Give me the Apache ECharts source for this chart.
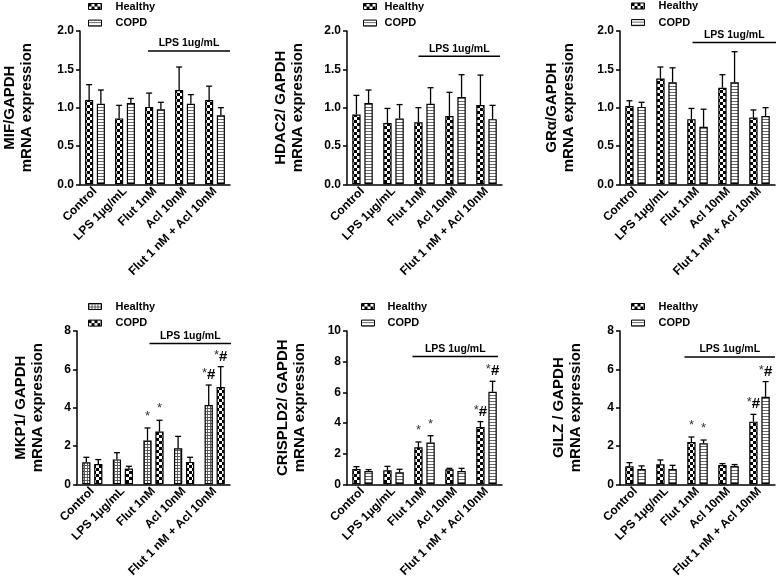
<!DOCTYPE html>
<html><head><meta charset="utf-8">
<script src="https://cdn.jsdelivr.net/npm/echarts@6/dist/echarts.min.js"></script>
<style>html,body{margin:0;padding:0;background:#fff}#c{width:778px;height:580px}</style>
</head><body><div id="c"></div>
<script>
// ---------- DATA ----------
const categories = ['Control', 'LPS 1μg/mL', 'Flut 1nM', 'Acl 10nM', 'Flut 1 nM + Acl 10nM'];
const groupNames = ['Healthy', 'COPD'];
const lpsLabel = 'LPS 1ug/mL';

const mifTitle = 'MIF/GAPDH\nmRNA expression';
const mifHealthy = [1.10, 0.86, 1.01, 1.23, 1.10];
const mifHealthyErr = [0.20, 0.17, 0.18, 0.30, 0.18];
const mifCopd = [1.05, 1.06, 0.98, 1.05, 0.90];
const mifCopdErr = [0.18, 0.06, 0.09, 0.12, 0.10];

const hdac2Title = 'HDAC2/ GAPDH\nmRNA expression';
const hdac2Healthy = [0.91, 0.80, 0.81, 0.89, 1.035];
const hdac2HealthyErr = [0.25, 0.19, 0.19, 0.31, 0.39];
const hdac2Copd = [1.06, 0.86, 1.05, 1.14, 0.85];
const hdac2CopdErr = [0.17, 0.18, 0.21, 0.29, 0.18];

const graTitle = 'GRα/GAPDH\nmRNA expression';
const graHealthy = [1.02, 1.38, 0.85, 1.26, 0.87];
const graHealthyErr = [0.07, 0.15, 0.14, 0.17, 0.10];
const graCopd = [1.01, 1.33, 0.75, 1.33, 0.89];
const graCopdErr = [0.06, 0.19, 0.23, 0.40, 0.11];

const mkp1Title = 'MKP1/ GAPDH\nmRNA expression';
const mkp1Healthy = [1.15, 1.30, 2.28, 1.88, 4.14];
const mkp1HealthyErr = [0.26, 0.35, 0.66, 0.62, 1.04];
const mkp1Copd = [1.06, 0.82, 2.75, 1.17, 5.08];
const mkp1CopdErr = [0.23, 0.12, 0.59, 0.24, 1.06];

const crispTitle = 'CRISPLD2/ GAPDH\nmRNA expression';
const crispHealthy = [1.00, 0.91, 2.41, 0.98, 3.74];
const crispHealthyErr = [0.15, 0.26, 0.35, 0.06, 0.35];
const crispCopd = [0.87, 0.78, 2.72, 0.87, 6.04];
const crispCopdErr = [0.09, 0.20, 0.45, 0.17, 0.68];

const gilzTitle = 'GILZ / GAPDH\nmRNA expression';
const gilzHealthy = [0.94, 1.04, 2.21, 1.01, 3.27];
const gilzHealthyErr = [0.19, 0.23, 0.26, 0.07, 0.38];
const gilzCopd = [0.80, 0.80, 2.14, 0.96, 4.57];
const gilzCopdErr = [0.16, 0.19, 0.17, 0.07, 0.79];

const noSig = ['', '', '', '', ''];
const sigMarks = ['', '', '*', '', '*#'];

const topAxisMax = 2, topAxisInterval = 0.5;
const mkp1AxisMax = 8, crispAxisMax = 10, gilzAxisMax = 8, bottomAxisInterval = 2;

// y value at which the "LPS 1ug/mL" bracket sits in each panel
const lpsLevels = [1.74, 1.67, 1.85, 7.35, 8.34, 6.64];

// ---------- PATTERNS ----------
function tile(type) {
  const c = document.createElement('canvas');
  let g;
  if (type === 'checker') {
    c.width = 6; c.height = 6; g = c.getContext('2d');
    g.fillStyle = '#fff'; g.fillRect(0, 0, 6, 6);
    g.fillStyle = '#000'; g.fillRect(0, 0, 3, 3); g.fillRect(3, 3, 3, 3);
  } else if (type === 'stripes') {
    c.width = 4; c.height = 3; g = c.getContext('2d');
    g.fillStyle = '#fff'; g.fillRect(0, 0, 4, 3);
    g.fillStyle = '#6a6a6a'; g.fillRect(0, 2, 4, 1);
  } else {
    c.width = 3; c.height = 3; g = c.getContext('2d');
    g.fillStyle = '#fff'; g.fillRect(0, 0, 3, 3);
    g.fillStyle = '#5a5a5a'; g.fillRect(0, 0, 3, 1); g.fillRect(0, 0, 1, 3);
  }
  return { image: c, repeat: 'repeat' };
}
const PAT = { checker: tile('checker'), stripes: tile('stripes'), hatch: tile('hatch') };

// ---------- PANELS ----------
const panels = [
  { title: mifTitle, h: mifHealthy, he: mifHealthyErr, c: mifCopd, ce: mifCopdErr, hs: noSig, cs: noSig, max: topAxisMax, interval: topAxisInterval, dec: 1,
    grid: { left: 77, top: 31, width: 153, height: 153.3 }, nameGap: 45, legend: { left: 88, top: 0.5, pad: 9 }, hp: 'checker', cp: 'stripes', lpsStart: -7, lpsEnd: 0 },
  { title: hdac2Title, h: hdac2Healthy, he: hdac2HealthyErr, c: hdac2Copd, ce: hdac2CopdErr, hs: noSig, cs: noSig, max: topAxisMax, interval: topAxisInterval, dec: 1,
    grid: { left: 347, top: 31, width: 155, height: 153.3 }, nameGap: 41, legend: { left: 363, top: 0.5, pad: 3 }, hp: 'checker', cp: 'stripes', lpsStart: -6, lpsEnd: -2 },
  { title: graTitle, h: graHealthy, he: graHealthyErr, c: graCopd, ce: graCopdErr, hs: noSig, cs: noSig, max: topAxisMax, interval: topAxisInterval, dec: 1,
    grid: { left: 620, top: 31, width: 155, height: 153.3 }, nameGap: 43, legend: { left: 631, top: 0, pad: 9 }, hp: 'checker', cp: 'stripes', lpsStart: -5, lpsEnd: 1 },
  { title: mkp1Title, h: mkp1Healthy, he: mkp1HealthyErr, c: mkp1Copd, ce: mkp1CopdErr, hs: sigMarks, cs: sigMarks, max: mkp1AxisMax, interval: bottomAxisInterval, dec: 0,
    grid: { left: 77, top: 331, width: 153, height: 153.3 }, nameGap: 31, legend: { left: 88, top: 300.5, pad: 9 }, hp: 'hatch', cp: 'checker', lpsStart: -4, lpsEnd: 1 },
  { title: crispTitle, h: crispHealthy, he: crispHealthyErr, c: crispCopd, ce: crispCopdErr, hs: sigMarks, cs: sigMarks, max: crispAxisMax, interval: bottomAxisInterval, dec: 0,
    grid: { left: 347, top: 331, width: 155, height: 153.3 }, nameGap: 39, legend: { left: 361, top: 300.5, pad: 8 }, hp: 'checker', cp: 'stripes', lpsStart: -12, lpsEnd: -4 },
  { title: gilzTitle, h: gilzHealthy, he: gilzHealthyErr, c: gilzCopd, ce: gilzCopdErr, hs: sigMarks, cs: sigMarks, max: gilzAxisMax, interval: bottomAxisInterval, dec: 0,
    grid: { left: 620, top: 331, width: 155, height: 153.3 }, nameGap: 36, legend: { left: 631, top: 300.5, pad: 9 }, hp: 'checker', cp: 'stripes', lpsStart: -13, lpsEnd: 0 }
];

const FONT = '"Liberation Sans", Arial, Helvetica, sans-serif';
const BAR_W = 0.27, BAR_GAP = 0.45;

function errorSeries(k, vals, errs, sig, side) {
  return {
    type: 'custom', xAxisIndex: k, yAxisIndex: k, silent: true, z: 5,
    data: vals.map((v, i) => [i, v, v + errs[i]]),
    encode: { x: 0, y: [1, 2] },
    renderItem(params, api) {
      const i = api.value(0);
      const catW = api.size([1, 0])[0];
      const bw = catW * BAR_W;
      const off = side * (bw + bw * BAR_GAP) / 2;
      const p0 = api.coord([i, api.value(1)]);
      const p1 = api.coord([i, api.value(2)]);
      const x = p0[0] + off;
      const st = { stroke: '#000', lineWidth: 1.3 };
      const children = [
        { type: 'line', shape: { x1: x, y1: p0[1], x2: x, y2: p1[1] }, style: st },
        { type: 'line', shape: { x1: x - 3, y1: p1[1], x2: x + 3, y2: p1[1] }, style: st }
      ];
      const s = sig[params.dataIndex];
      if (s) {
        const txt = s === '*#' ? '{s|*}{h|#}' : '{s|*}';
        children.push({
          type: 'text',
          style: {
            text: txt, x: x, y: p1[1] - 2, align: 'center', verticalAlign: 'bottom',
            rich: {
              s: { fontSize: 13, fontFamily: FONT, fill: '#333', verticalAlign: 'top', lineHeight: 16 },
              h: { fontSize: 15, fontWeight: 'bold', fontFamily: FONT, fill: '#000', lineHeight: 16 }
            }
          }
        });
      }
      return { type: 'group', children };
    }
  };
}

function lpsSeries(k, level, startOff, endOff) {
  return {
    type: 'custom', xAxisIndex: k, yAxisIndex: k, silent: true, z: 6,
    data: [[2, level]], encode: { x: 0, y: 1 },
    renderItem(params, api) {
      const p = api.coord([api.value(0), api.value(1)]);
      const cs = params.coordSys;
      const x0 = p[0] + startOff, x1 = cs.x + cs.width + endOff;
      return {
        type: 'group', children: [
          { type: 'line', shape: { x1: x0, y1: p[1], x2: x1, y2: p[1] }, style: { stroke: '#000', lineWidth: 1.5 } },
          { type: 'text', style: { text: lpsLabel, x: (x0 + x1) / 2, y: p[1] - 2, align: 'center', verticalAlign: 'bottom',
            fontSize: 10.5, fontWeight: 'bold', fontFamily: FONT, fill: '#000' } }
        ]
      };
    }
  };
}

const grids = [], xAxes = [], yAxes = [], series = [], legends = [];
panels.forEach((p, k) => {
  grids.push(Object.assign({ containLabel: false }, p.grid));
  xAxes.push({
    type: 'category', gridIndex: k, data: categories,
    axisLine: { lineStyle: { color: '#000', width: 1.5 } },
    axisTick: { alignWithLabel: true, length: 4, lineStyle: { color: '#000', width: 1.5 } },
    axisLabel: { interval: 0, rotate: 45, margin: 5, fontSize: 12, fontWeight: 'bold', fontFamily: FONT, color: '#000' },
    splitLine: { show: false }
  });
  yAxes.push({
    type: 'value', gridIndex: k, min: 0, max: p.max, interval: p.interval,
    name: p.title, nameLocation: 'middle', nameGap: p.nameGap,
    nameTextStyle: { fontSize: 15, fontWeight: 'bold', fontFamily: FONT, color: '#000', lineHeight: 17 },
    axisLine: { show: true, lineStyle: { color: '#000', width: 1.5 } },
    axisTick: { show: true, length: 4, lineStyle: { color: '#000', width: 1.5 } },
    axisLabel: { margin: 6, fontSize: 12, fontWeight: 'bold', fontFamily: FONT, color: '#000',
      formatter: v => v.toFixed(p.dec) },
    splitLine: { show: false }
  });
  const hn = groupNames[0] + '|' + k, cn = groupNames[1] + '|' + k;
  series.push({
    type: 'bar', name: hn, xAxisIndex: k, yAxisIndex: k, data: p.h, barWidth: (BAR_W * 100) + '%', barGap: (BAR_GAP * 100) + '%',
    silent: true, itemStyle: { color: PAT[p.hp], borderColor: '#000', borderWidth: 1.2 }
  });
  series.push({
    type: 'bar', name: cn, xAxisIndex: k, yAxisIndex: k, data: p.c, barWidth: (BAR_W * 100) + '%', barGap: (BAR_GAP * 100) + '%',
    silent: true, itemStyle: { color: PAT[p.cp], borderColor: '#000', borderWidth: 1.2 }
  });
  series.push(errorSeries(k, p.h, p.he, p.hs, -1));
  series.push(errorSeries(k, p.c, p.ce, p.cs, 1));
  series.push(lpsSeries(k, lpsLevels[k], p.lpsStart, p.lpsEnd));
  legends.push({
    left: p.legend.left, top: p.legend.top, orient: 'vertical', padding: 0, itemGap: 4.6,
    itemWidth: 13, itemHeight: 6, icon: 'rect', selectedMode: false,
    data: [hn, cn], formatter: n => n.split('|')[0],
    itemStyle: { borderColor: '#000', borderWidth: 1 },
    textStyle: { fontSize: 11, fontWeight: 'bold', fontFamily: FONT, color: '#000', lineHeight: 12, padding: [0, 0, 0, p.legend.pad] }
  });
});

const chart = echarts.init(document.getElementById('c'), null, { renderer: 'canvas' });
chart.setOption({
  animation: false, backgroundColor: '#fff',
  grid: grids, xAxis: xAxes, yAxis: yAxes, legend: legends, series: series
});
</script></body></html>
